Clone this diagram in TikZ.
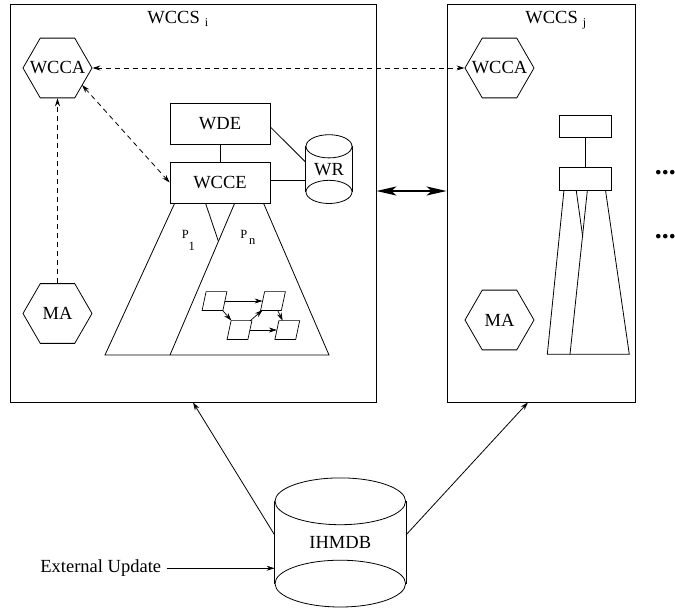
\documentclass[tikz,border=0pt]{standalone}
\usepackage{fontspec}
\setmainfont{Liberation Serif}
\usetikzlibrary{arrows.meta,shapes.geometric,calc}
\begin{document}
\begin{tikzpicture}[x=1pt,y=-1pt,
  every node/.style={font=\fontsize{18.5}{20}\selectfont},
  line width=0.8pt,
  sbox/.style={draw, rectangle, inner sep=0pt},
  hexa/.style={draw, regular polygon, regular polygon sides=6, minimum size=69pt, inner sep=0pt},
  dsh/.style={dash pattern=on 5pt off 4pt},
  tipend/.style={-{Stealth[length=8pt,width=5pt]}},
  tipboth/.style={{Stealth[length=8pt,width=5pt]}-{Stealth[length=8pt,width=5pt]}},
  para/.style={rectangle, minimum width=20pt, minimum height=18pt, inner sep=0pt},
  small/.style={font=\fontsize{12.5}{13}\selectfont, inner sep=0pt, anchor=base west},
  dotsty/.style={font=\fontsize{28}{28}\selectfont\bfseries, inner sep=0pt, anchor=base west}
]
\useasboundingbox (0,0) rectangle (675,608);

% outer boxes
\node[sbox, minimum width=366pt, minimum height=398pt] (wccsi) at (193,203) {};
\node[sbox, minimum width=188pt, minimum height=398pt] (wccsj) at (541,203) {};
\node[inner sep=0pt, anchor=base west] (lbli) at (147,23) {WCCS\hspace{5pt}\raisebox{-3.5pt}{\fontsize{12}{12}\selectfont i}};
\node[inner sep=0pt, anchor=base west] (lblj) at (525,23) {WCCS\hspace{5pt}\raisebox{-3.5pt}{\fontsize{12}{12}\selectfont j}};

% dots
\node[dotsty] (dots1) at (654.5,174.5) {...};
\node[dotsty] (dots2) at (654.5,238.5) {...};

% hexagons
\node[hexa] (wccai) at (57.5,68) {\makebox[0pt]{WCCA}};
\node[hexa] (mai) at (57.5,313.5) {\makebox[0pt]{MA}};
\node[hexa] (wccaj) at (499.5,68) {\makebox[0pt]{WCCA}};
\node[hexa] (maj) at (499.5,320) {\makebox[0pt]{MA}};

% left internal
\node[sbox, minimum width=100pt, minimum height=41pt] (wde) at (220,123.5) {WDE};
\node[sbox, minimum width=100pt, minimum height=41pt] (wcce) at (220,182.5) {WCCE};
\node[inner sep=0pt, minimum width=46pt, minimum height=44.8pt] (wr) at (329,169.1) {WR};
\draw (wr.north) ellipse [x radius=23pt, y radius=11.6pt];
\draw (wr.south) ellipse [x radius=23pt, y radius=11.6pt];
\draw (wr.north west) -- (wr.south west);
\draw (wr.north east) -- (wr.south east);

\draw (wde.south) -- (wcce.north);
\draw ($(wde.east)+(0,3.5)$) -- ($(wr.west)+(0,-7)$);
\coordinate (wcceout) at ($(wcce.east)+(0,-2.5)$);
\draw (wcceout) -- (wcceout -| wr.west);

% trapezoids left
\draw ($(wcce.south west)+(5,0)$) -- (105,355) -- (329,355) -- ($(wcce.south west)+(94,0)$);
\draw ($(wcce.south west)+(65,0)$) -- (170,355);
\draw ($(wcce.south west)+(36,0)$) -- (218.3,241);
\node[small] (p1) at (181.5,238.3) {P};
\node[small] (p1s) at (188.3,250) {1};
\node[small] (pn) at (240,238.3) {P};
\node[small] (pns) at (248.6,244) {n};

% small process graph
\node[para] (ga) at (214.5,301) {};
\node[para] (gb) at (273,301) {};
\node[para] (gc) at (239.5,330) {};
\node[para] (gd) at (287.3,330) {};
\begin{scope}[line width=0.7pt]
\foreach \n in {ga,gb,gc,gd}
  \draw ($(\n.south west)+(-2,0)$) -- ($(\n.north west)+(2,0)$) -- ($(\n.north east)+(2,0)$) -- ($(\n.south east)+(-2,0)$) -- cycle;
\draw[tipend] (ga) -- (gb);
\draw[tipend] (ga) -- (gc);
\draw[tipend] (gc) -- (gb);
\draw[tipend] (gb) -- (gd);
\draw[tipend] (gc) -- (gd);
\end{scope}

% dashed connectors
\draw[dsh, tipboth] (wccai.east) -- (wccaj.west);
\draw[dsh, tipboth] ($(wccai.center)+(24.5,17)$) -- (wcce.west);
\draw[dsh, tipend] (mai.north) -- (wccai.south);

% right internal
\node[sbox, minimum width=52.4pt, minimum height=22.7pt] (rb1) at (585.5,126.3) {};
\node[sbox, minimum width=52.4pt, minimum height=23.2pt] (rb2) at (585.5,178.9) {};
\draw (rb1.south) -- (rb2.north);
\draw ($(rb2.south west)+(5,0)$) -- (547.3,354.3) -- (629.3,354.3) -- ($(rb2.south west)+(46.7,0)$);
\draw ($(rb2.south west)+(28.4,0)$) -- (570,354.3);
\draw ($(rb2.south west)+(17.4,0)$) -- (582.7,236.7);

% double arrow
\draw[line width=2pt, {Stealth[length=20pt,width=9pt,inset=5pt]}-{Stealth[length=20pt,width=9pt,inset=5pt]}]
  ($(wccsi.east)+(0,-12)$) -- ($(wccsj.west)+(0,-12)$);

% IHMDB
\node[inner sep=0pt, minimum width=130.6pt, minimum height=81.5pt] (ihmdb) at (340.3,542.45) {IHMDB};
\draw (ihmdb.north) ellipse [x radius=65.3pt, y radius=23.4pt];
\draw (ihmdb.south) ellipse [x radius=65.3pt, y radius=23.4pt];
\draw (ihmdb.north west) -- (ihmdb.south west);
\draw (ihmdb.north east) -- (ihmdb.south east);

\node[inner sep=0pt, anchor=base west] (ext) at (40,572.7) {External Update};
\coordinate (extout) at ($(ext.east)+(5,0)$);
\draw[tipend] (extout) -- (extout -| ihmdb.west);
\draw[tipend] ($(ihmdb.west)+(0,-7.5)$) -- (wccsi.south);
\draw[tipend] ($(ihmdb.east)+(0,-7.5)$) -- ($(wccsj.south)+(-13,0)$);
\end{tikzpicture}
\end{document}
